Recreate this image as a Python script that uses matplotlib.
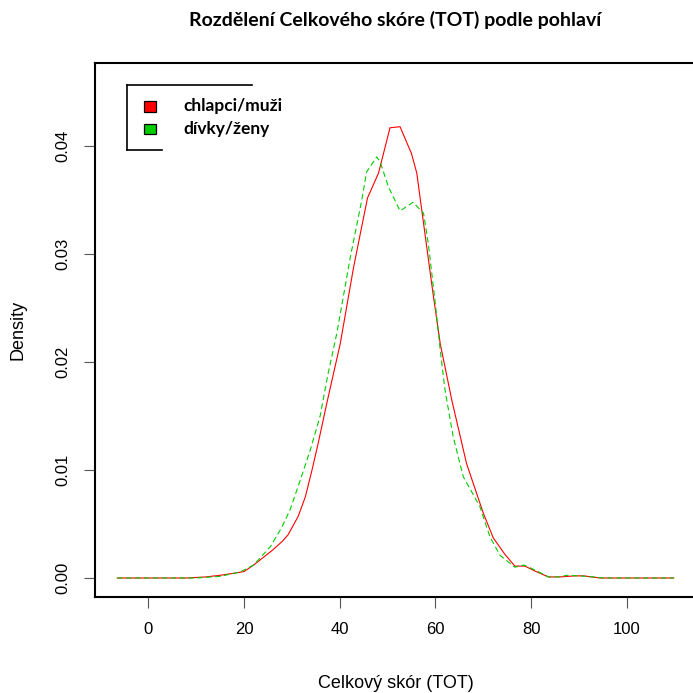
import matplotlib
matplotlib.use("Agg")
import matplotlib.pyplot as plt
from matplotlib.lines import Line2D
from matplotlib.patches import Rectangle

# ------------ Data ------------
boys_x = [-6.5, 0, 5, 8, 10, 12, 15, 18, 20, 22, 24, 26, 28, 29.2, 31.3, 32.8,
          34.2, 35.5, 37.3, 40.1, 42.9, 44.3, 45.8, 48.1, 50.5, 52.6, 55.0,
          56.1, 57.8, 59.6, 61.0, 63.4, 66.5, 70.0, 72.1, 74.5, 76.6, 78.7,
          81, 83.6, 86, 89, 91, 92.6, 94.4, 100, 109.8]
boys_y = [0, 0, 0, 0, 0.00005, 0.0001, 0.00025, 0.00045, 0.0006, 0.0012,
          0.0019, 0.0026, 0.0034, 0.0040, 0.0057, 0.0075, 0.0100, 0.0125,
          0.0162, 0.0217, 0.0288, 0.0319, 0.0352, 0.0375, 0.0417, 0.0418,
          0.0393, 0.0375, 0.0319, 0.0260, 0.0217, 0.0165, 0.0106, 0.0060,
          0.0037, 0.0022, 0.0011, 0.0011, 0.0006, 0.0001, 0.0001, 0.00019,
          0.0002, 0.0001, 0, 0, 0]

girls_x = [-6.5, 0, 10, 15, 19.2, 22, 25.5, 27.9, 29.6, 31.7, 33.8, 35.9, 37.5,
           39.4, 42.2, 44.6, 45.6, 47.7, 48.4, 50.2, 52.6, 55.3, 57.5, 58.5,
           59.9, 61, 62, 63.7, 65.8, 69.3, 71.4, 73.5, 76.6, 78.5, 81, 83.6,
           86, 87.4, 90, 93, 95, 100, 109.8]
girls_y = [0, 0, 0, 0.00015, 0.00056, 0.0012, 0.0029, 0.0047, 0.0063, 0.0090,
           0.0118, 0.0150, 0.0188, 0.0227, 0.0297, 0.0350, 0.0376, 0.0390,
           0.0386, 0.0362, 0.0340, 0.0348, 0.0338, 0.0310, 0.0257, 0.0211,
           0.0174, 0.0131, 0.0094, 0.0066, 0.0038, 0.0021, 0.0010, 0.0012,
           0.0007, 0.0001, 0.0001, 0.00025, 0.0002, 0.0001, 0, 0, 0]

x_ticks = [0, 20, 40, 60, 80, 100]
y_ticks = [0.00, 0.01, 0.02, 0.03, 0.04]
y_tick_labels = ["0.00", "0.01", "0.02", "0.03", "0.04"]
labels = ["chlapci/muži", "dívky/ženy"]

RED = "#FF0000"
GREEN = "#00CD00"

# ------------ Figure ------------
W = 693
fig = plt.figure(figsize=(6.93, 6.93), dpi=100)
plt.rcParams["font.family"] = ["Liberation Sans", "DejaVu Sans"]

def fx(px):
    return px / W

def fy(py):
    return 1 - py / W

ax = fig.add_axes([fx(95), fy(597), fx(696) - fx(95), fy(63) - fy(597)])
ax.plot(boys_x, boys_y, color=RED, lw=0.8)
ax.plot(girls_x, girls_y, color=GREEN, lw=0.8, dashes=(5, 3))

ax.set_xlim(-11.15, 114.45)
ax.set_ylim(-0.00176, 0.0477)
ax.set_xticks(x_ticks)
ax.set_yticks(y_ticks)
ax.set_yticklabels(y_tick_labels, rotation=90, va="center")
ax.tick_params(length=8, width=0.8, color="#555555", labelsize=12, pad=10)
for s in ax.spines.values():
    s.set_linewidth(1.5)

fig.text(0.5 * (fx(95) + fx(696)), fy(20), "Rozdělení Celkového skóre (TOT) podle pohlaví",
         ha="center", va="center", fontsize=14, fontweight="bold",
         family=["Lato", "DejaVu Sans"])
fig.text(fx(18), fy(330), "Density", rotation=90, ha="center", va="center", fontsize=13)
fig.text(0.5 * (fx(95) + fx(696)), fy(683), "Celkový skór (TOT)", ha="center",
         va="center", fontsize=13)

# legend drawn by hand (R-style partial frame)
frame = [((126.7, 85), (251.7, 85)), ((126.7, 85), (126.7, 150)),
         ((126.7, 150), (161.7, 150))]
for (x0, y0), (x1, y1) in frame:
    fig.add_artist(Line2D([fx(x0), fx(x1)], [fy(y0), fy(y1)], color="black", lw=1.2))
for i, (lab, col) in enumerate(zip(labels, [RED, GREEN])):
    cy = 106.5 + i * 22.5
    fig.add_artist(Rectangle((fx(144), fy(cy + 5)), fx(12), fx(10),
                             facecolor=col, edgecolor="black", lw=0.9))
    fig.text(fx(183), fy(cy), lab, ha="left", va="center", fontsize=12.5,
             fontweight="bold", family=["Lato", "DejaVu Sans"])

fig.savefig("out.png", dpi=100)
